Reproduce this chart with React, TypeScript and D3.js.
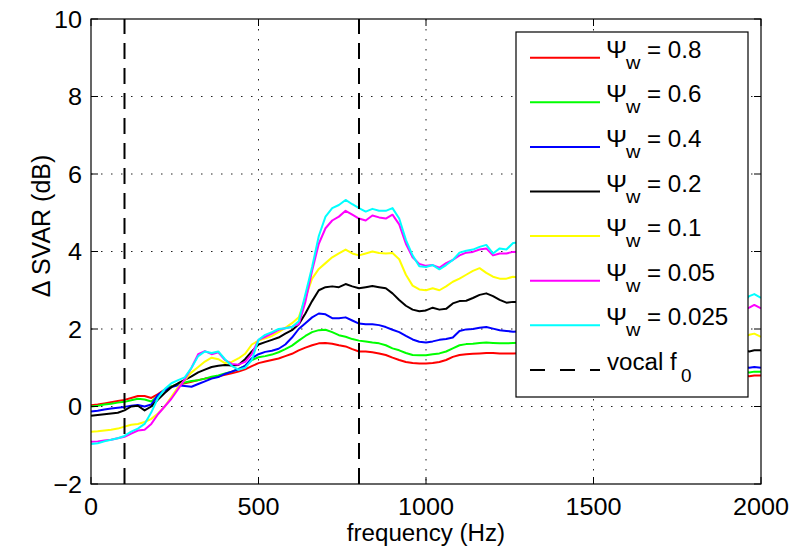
import React from 'react';
import * as d3 from 'd3';

const freqs = [
  0, 20, 40, 60, 80, 100, 120, 140, 160, 180,
  200, 220, 240, 260, 280, 300, 320, 340, 360, 380,
  400, 420, 440, 460, 480, 500, 520, 540, 560, 580,
  600, 620, 640, 660, 680, 700, 720, 740, 760, 780,
  800, 820, 840, 860, 880, 900, 920, 940, 960, 980,
  1000, 1020, 1040, 1060, 1080, 1100, 1120, 1140, 1160, 1180,
  1200, 1220, 1240, 1260,
  1300, 1400, 1500, 1600, 1700, 1800, 1900, 1950, 1965, 1980, 2000,
];

const psi080 = [
  0.03, 0.05, 0.08, 0.11, 0.14, 0.17, 0.22, 0.27, 0.27, 0.22,
  0.32, 0.44, 0.52, 0.57, 0.6, 0.64, 0.68, 0.72, 0.74, 0.78,
  0.82, 0.86, 0.9, 0.96, 1.04, 1.12, 1.16, 1.2, 1.24, 1.3,
  1.36, 1.45, 1.52, 1.58, 1.63, 1.64, 1.62, 1.58, 1.55, 1.48,
  1.42, 1.42, 1.4, 1.37, 1.33, 1.26, 1.2, 1.15, 1.12, 1.11,
  1.11, 1.12, 1.15, 1.2, 1.28, 1.33, 1.35, 1.36, 1.37, 1.38,
  1.38, 1.37, 1.37, 1.37,
  1.38, 1.35, 1.25, 1.15, 1.05, 0.95, 0.85, 0.8, 0.78, 0.8, 0.8,
];

const psi060 = [
  0.0, 0.02, 0.05, 0.07, 0.1, 0.12, 0.16, 0.2, 0.18, 0.13,
  0.28, 0.43, 0.52, 0.58, 0.62, 0.66, 0.68, 0.72, 0.77, 0.8,
  0.85, 0.9, 0.97, 1.05, 1.2, 1.27, 1.3, 1.34, 1.4, 1.48,
  1.57, 1.7, 1.82, 1.92, 1.97, 1.98, 1.92, 1.84, 1.8, 1.74,
  1.7, 1.68, 1.65, 1.63, 1.58, 1.5, 1.45, 1.38, 1.33, 1.32,
  1.32, 1.35, 1.37, 1.42, 1.5, 1.58, 1.61, 1.62, 1.64, 1.65,
  1.64, 1.63, 1.63, 1.64,
  1.65, 1.6, 1.5, 1.35, 1.2, 1.05, 0.95, 0.9, 0.88, 0.9, 0.9,
];

const psi040 = [
  -0.13, -0.11, -0.08, -0.05, -0.03, -0.01, 0.02, 0.04, 0.0, 0.05,
  0.3, 0.42, 0.5, 0.55, 0.53, 0.51, 0.58, 0.65, 0.72, 0.76,
  0.84, 0.9, 0.96, 1.05, 1.25, 1.35, 1.41, 1.44, 1.49, 1.6,
  1.78, 2.0, 2.15, 2.3, 2.4, 2.38, 2.28, 2.28, 2.3, 2.22,
  2.14, 2.12, 2.12, 2.1, 2.05, 1.98, 1.92, 1.82, 1.73, 1.67,
  1.65, 1.68, 1.72, 1.74, 1.78, 1.95, 1.99, 2.0, 2.03, 2.05,
  2.01, 1.97, 1.95, 1.93,
  1.95, 1.85, 1.7, 1.55, 1.4, 1.25, 1.1, 1.02, 1.0, 1.02, 1.0,
];

const psi020 = [
  -0.24, -0.22, -0.2, -0.18, -0.16, -0.1, 0.0, 0.02, -0.1, 0.0,
  0.18, 0.35, 0.5, 0.6, 0.69, 0.78, 0.88, 0.95, 1.02, 1.05,
  1.07, 1.06, 1.07, 1.22, 1.42, 1.6, 1.66, 1.72, 1.78, 1.88,
  1.97, 2.12, 2.4, 2.72, 3.0, 3.08, 3.1, 3.08, 3.16, 3.1,
  3.05, 3.08, 3.11, 3.08, 3.05, 2.92, 2.75, 2.6, 2.5, 2.46,
  2.48, 2.55, 2.5, 2.52, 2.66, 2.72, 2.73, 2.8, 2.88, 2.92,
  2.85, 2.75, 2.68, 2.7,
  2.7, 2.55, 2.35, 2.15, 1.95, 1.75, 1.55, 1.45, 1.42, 1.45, 1.45,
];

const psi010 = [
  -0.65, -0.64, -0.62, -0.6, -0.57, -0.52, -0.47, -0.45, -0.4, -0.32,
  -0.18, 0.0, 0.25, 0.5, 0.68, 0.88, 1.02, 1.16, 1.26, 1.22,
  1.12, 1.15, 1.24, 1.36, 1.6, 1.7, 1.76, 1.82, 1.92, 2.03,
  2.15, 2.3, 2.8, 3.3, 3.55, 3.7, 3.85, 3.95, 4.05, 3.95,
  3.9, 3.95, 4.0, 3.96, 3.95, 3.96, 3.8, 3.4, 3.12, 3.02,
  3.0, 3.05, 3.0, 3.1, 3.22, 3.3, 3.4, 3.5, 3.57, 3.45,
  3.35, 3.3, 3.3, 3.35,
  3.3, 3.1, 2.85, 2.6, 2.35, 2.1, 1.9, 1.8, 1.85, 1.88, 1.8,
];

const psi005 = [
  -0.91, -0.9, -0.88, -0.86, -0.82, -0.78, -0.7, -0.62, -0.6, -0.45,
  -0.2, 0.0, 0.2, 0.45, 0.7, 1.0, 1.35, 1.43, 1.35, 1.4,
  1.2, 1.1, 1.08, 1.15, 1.35, 1.72, 1.8, 1.88, 1.98, 2.02,
  2.06, 2.12, 2.7, 3.5, 4.2, 4.6, 4.8, 4.9, 5.05, 4.95,
  4.85, 4.8, 4.93, 4.88, 4.85, 4.95, 4.7, 4.2, 3.85, 3.68,
  3.63, 3.65, 3.58, 3.7, 3.78, 3.9, 3.97, 3.99, 4.05, 4.08,
  3.9, 3.95, 3.95, 3.99,
  4.0, 3.8, 3.55, 3.3, 3.05, 2.8, 2.6, 2.5, 2.55, 2.62, 2.53,
];

const psi0025 = [
  -0.97, -0.95, -0.9, -0.86, -0.82, -0.76, -0.65, -0.57, -0.45, -0.15,
  0.22, 0.45, 0.6, 0.68, 0.75, 1.0, 1.3, 1.42, 1.38, 1.42,
  1.22, 1.05, 0.95, 1.0, 1.2, 1.72, 1.85, 1.92, 2.0, 2.02,
  2.05, 2.2, 2.9, 3.6, 4.4, 4.9, 5.12, 5.2, 5.33, 5.22,
  5.12, 5.03, 5.1, 5.05, 5.05, 5.12, 4.85, 4.3, 3.9, 3.62,
  3.6, 3.65, 3.54, 3.65, 3.78, 3.97, 4.02, 4.05, 4.12, 4.17,
  3.95, 4.08, 4.05, 4.22,
  4.25, 4.05, 3.8, 3.55, 3.3, 3.05, 2.85, 2.72, 2.85, 2.9, 2.8,
];

const seriesLabels = ['0.8', '0.6', '0.4', '0.2', '0.1', '0.05', '0.025'];
const seriesColors = ['#ff0000', '#00ff00', '#0000ff', '#000000', '#ffff00', '#ff00ff', '#00ffff'];
const seriesValues = [psi080, psi060, psi040, psi020, psi010, psi005, psi0025];
const vocalF0 = [100, 800];
const xTicks = [0, 500, 1000, 1500, 2000];
const yTicks = [-2, 0, 2, 4, 6, 8, 10];

const FONT = "'Liberation Sans', Arial, Helvetica, sans-serif";
const SX = 1.05;

export default function App() {
  const W = 790, H = 551;
  const L = 91, R = 761, T = 19, B = 484;
  const x = d3.scaleLinear().domain([0, 2000]).range([L, R]);
  const y = d3.scaleLinear().domain([-2, 10]).range([B, T]);
  const line = d3.line<number>().x((_, i) => x(freqs[i])).y((d) => y(d));
  const tickLen = 7;

  const legX = 516, legY = 32, legW = 232, legH = 365;
  const entryY0 = 57.7, entryDy = 44.6;

  return (
    <svg width={W} height={H} style={{ position: 'absolute', left: 0, top: 0, background: '#fff' }}
      fontFamily={FONT}>
      <rect x={0} y={0} width={W} height={H} fill="#fff" />
      {/* grid */}
      {xTicks.filter((t) => t > 0 && t < 2000).map((t) => (
        <line key={'gx' + t} x1={x(t)} x2={x(t)} y1={T} y2={B} stroke="#222" strokeWidth={1}
          strokeDasharray="1.5,8.5" />
      ))}
      {yTicks.filter((t) => t > -2 && t < 10).map((t) => (
        <line key={'gy' + t} x1={L} x2={R} y1={y(t)} y2={y(t)} stroke="#222" strokeWidth={1}
          strokeDasharray="1.5,8.5" />
      ))}
      {/* series */}
      <g clipPath="url(#plotclip)">
        {seriesValues.map((vals, i) => (
          <path key={'s' + i} d={line(vals) || ''} fill="none" stroke={seriesColors[i]}
            strokeWidth={2} strokeLinejoin="round" />
        ))}
        {vocalF0.map((f) => (
          <line key={'v' + f} x1={x(f)} x2={x(f)} y1={y(-2)} y2={y(10)} stroke="#000"
            strokeWidth={2} strokeDasharray="16,9" />
        ))}
      </g>
      <defs>
        <clipPath id="plotclip">
          <rect x={L} y={T} width={R - L} height={B - T} />
        </clipPath>
      </defs>
      {/* ticks */}
      {xTicks.map((t) => (
        <g key={'xt' + t}>
          <line x1={x(t)} x2={x(t)} y1={B} y2={B - tickLen} stroke="#000" strokeWidth={1} />
          <line x1={x(t)} x2={x(t)} y1={T} y2={T + tickLen} stroke="#000" strokeWidth={1} />
          <g transform={`translate(${x(t)},${515}) scale(${SX},1)`}>
            <text x={0} y={0} textAnchor="middle" fontSize={24} fill="#000">{t}</text>
          </g>
        </g>
      ))}
      {yTicks.map((t) => (
        <g key={'yt' + t}>
          <line x1={L} x2={L + tickLen} y1={y(t)} y2={y(t)} stroke="#000" strokeWidth={1} />
          <line x1={R} x2={R - tickLen} y1={y(t)} y2={y(t)} stroke="#000" strokeWidth={1} />
          <g transform={`translate(${82},${y(t) + 8.5}) scale(${SX},1)`}>
            <text x={0} y={0} textAnchor="end" fontSize={24} fill="#000">{t < 0 ? '\u2212' + Math.abs(t) : t}</text>
          </g>
        </g>
      ))}
      {/* box */}
      <rect x={L} y={T} width={R - L} height={B - T} fill="none" stroke="#000" strokeWidth={1.2} />
      {/* axis labels */}
      <g transform={`translate(${(L + R) / 2},${541}) scale(${SX},1)`}>
        <text x={0} y={0} textAnchor="middle" fontSize={23} fill="#000">frequency (Hz)</text>
      </g>
      <g transform={`translate(${50},${226}) rotate(-90)`}>
        <text x={0} y={0} textAnchor="middle" fontSize={25} fill="#000">{'\u0394 SVAR (dB)'}</text>
      </g>
      {/* legend */}
      <rect x={legX} y={legY} width={legW} height={legH} fill="#fff" stroke="#000" strokeWidth={1.2} />
      {seriesLabels.map((lab, i) => {
        const ly = entryY0 + i * entryDy;
        return (
          <g key={'lg' + i}>
            <line x1={530} x2={600} y1={ly} y2={ly} stroke={seriesColors[i]} strokeWidth={2} />
            <g transform={`translate(606,${ly}) scale(${SX},1)`}>
              <text x={0} y={0} fontSize={24} fill="#000">{'\u03A8'}</text>
            </g>
            <g transform={`translate(626,${ly + 11}) scale(${SX},1)`}>
              <text x={0} y={0} fontSize={19} fill="#000">w</text>
            </g>
            <g transform={`translate(647,${ly}) scale(${SX},1)`}>
              <text x={0} y={0} fontSize={23} fill="#000">{'= ' + lab}</text>
            </g>
          </g>
        );
      })}
      {(() => {
        const ly = entryY0 + 7 * entryDy;
        return (
          <g>
            <line x1={530} x2={600} y1={ly} y2={ly} stroke="#000" strokeWidth={2} strokeDasharray="15,15" />
            <g transform={`translate(607,${ly}) scale(${SX},1)`}>
              <text x={0} y={0} fontSize={23} fill="#000">vocal f</text>
            </g>
            <g transform={`translate(681,${ly + 12}) scale(${SX},1)`}>
              <text x={0} y={0} fontSize={18} fill="#000">0</text>
            </g>
          </g>
        );
      })()}
    </svg>
  );
}
